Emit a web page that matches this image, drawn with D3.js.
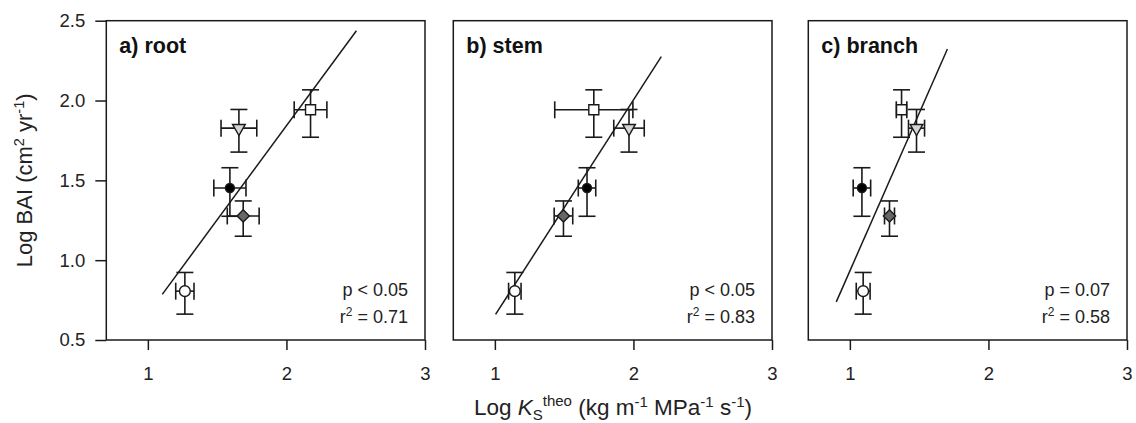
<!DOCTYPE html>
<html>
<head>
<meta charset="utf-8">
<script src="https://cdn.jsdelivr.net/npm/d3@7"></script>
<style>
  html, body { margin: 0; padding: 0; background: #fff; }
  svg { display: block; font-family: Arial, "Liberation Sans", sans-serif; }
</style>
</head>
<body>
<svg id="chart" width="1136" height="423"></svg>
<script>
// ---------- data ----------
const panels = ["a) root", "b) stem", "c) branch"];
const species = ["open circle", "black circle", "grey diamond", "grey triangle", "open square"];
const shapes = ["circle", "dot", "diamond", "triangle", "square"];
const fills = ["#ffffff", "#000000", "#666666", "#d4d4d4", "#ffffff"];

// Log BAI (y) with errors — same across organs
const yVals = [0.806, 1.452, 1.277, 1.827, 1.942];
const yErrLo = [0.144, 0.177, 0.127, 0.150, 0.172];
const yErrHi = [0.117, 0.127, 0.094, 0.117, 0.125];

// Log Ks theo (x) with errors per organ
const xRoot   = [1.267, 1.592, 1.688, 1.657, 2.174];
const xErrRoot = [0.066, 0.116, 0.115, 0.129, 0.118];
const xStem   = [1.144, 1.665, 1.495, 1.968, 1.714];
const xErrStem = [0.045, 0.063, 0.067, 0.110, 0.282];
const xBranch = [1.096, 1.087, 1.286, 1.481, 1.373];
const xErrBranch = [0.050, 0.063, 0.036, 0.058, 0.038];

// regression lines: [x0, y0, x1, y1]
const fitRoot   = [1.104, 0.786, 2.505, 2.437];
const fitStem   = [1.005, 0.660, 2.201, 2.275];
const fitBranch = [0.902, 0.739, 1.704, 2.323];

const pTexts = ["p < 0.05", "p < 0.05", "p = 0.07"];
const r2Vals = ["0.71", "0.83", "0.58"];

const xTicks = [1, 2, 3];
const yTicks = [0.5, 1.0, 1.5, 2.0, 2.5];
const xDomain = [0.7, 3];
const yDomain = [0.5, 2.5];

// ---------- layout ----------
const svg = d3.select("#chart");
const panelLeft = [106.3, 453.3, 808.3];
const pTop = 20.7, pw = 318.7, ph = 319.3;
const xs = [xRoot, xStem, xBranch];
const xe = [xErrRoot, xErrStem, xErrBranch];
const fits = [fitRoot, fitStem, fitBranch];
const ink = "#1a1a1a";

const y = d3.scaleLinear().domain(yDomain).range([pTop + ph, pTop]);

panels.forEach((name, pi) => {
  const x = d3.scaleLinear().domain(xDomain).range([panelLeft[pi], panelLeft[pi] + pw]);
  const g = svg.append("g");

  // frame
  g.append("rect").attr("x", panelLeft[pi]).attr("y", pTop).attr("width", pw).attr("height", ph)
    .attr("fill", "none").attr("stroke", ink).attr("stroke-width", 1.5);

  // x axis
  const xa = g.append("g").attr("transform", `translate(0,${pTop + ph})`)
    .call(d3.axisBottom(x).tickValues(xTicks).tickFormat(d3.format("d")).tickSize(10).tickPadding(17));
  xa.select(".domain").remove();
  xa.selectAll("line").attr("stroke", ink).attr("stroke-width", 1.5);
  xa.selectAll("text").attr("font-size", 18.5).attr("fill", "#222");

  // y axis only for first panel
  if (pi === 0) {
    const ya = g.append("g").attr("transform", `translate(${panelLeft[pi]},0)`)
      .call(d3.axisLeft(y).tickValues(yTicks).tickFormat(d3.format(".1f")).tickSize(11).tickPadding(10));
    ya.select(".domain").remove();
    ya.selectAll("line").attr("stroke", ink).attr("stroke-width", 1.5);
    ya.selectAll("text").attr("font-size", 18.5).attr("fill", "#222");
  }

  // regression line
  const f = fits[pi];
  g.append("line").attr("x1", x(f[0])).attr("y1", y(f[1])).attr("x2", x(f[2])).attr("y2", y(f[3]))
    .attr("stroke", ink).attr("stroke-width", 1.5);

  const cap = 8.5;
  species.forEach((s, i) => {
    const cx = x(xs[pi][i]), cy = y(yVals[i]);
    const eg = g.append("g").attr("stroke", ink).attr("stroke-width", 1.6).attr("fill", "none");
    const yl = y(yVals[i] - yErrLo[i]), yh = y(yVals[i] + yErrHi[i]);
    const xl = x(xs[pi][i] - xe[pi][i]), xh = x(xs[pi][i] + xe[pi][i]);
    eg.append("line").attr("x1", cx).attr("x2", cx).attr("y1", yl).attr("y2", yh);
    eg.append("line").attr("x1", cx - cap).attr("x2", cx + cap).attr("y1", yl).attr("y2", yl);
    eg.append("line").attr("x1", cx - cap).attr("x2", cx + cap).attr("y1", yh).attr("y2", yh);
    eg.append("line").attr("x1", xl).attr("x2", xh).attr("y1", cy).attr("y2", cy);
    eg.append("line").attr("x1", xl).attr("x2", xl).attr("y1", cy - cap).attr("y2", cy + cap);
    eg.append("line").attr("x1", xh).attr("x2", xh).attr("y1", cy - cap).attr("y2", cy + cap);

    let sym;
    switch (shapes[i]) {
      case "circle": sym = d3.symbol(d3.symbolCircle, 90); break;
      case "dot": sym = d3.symbol(d3.symbolCircle, 64); break;
      case "diamond": sym = d3.symbol(d3.symbolSquare, 75); break;
      case "triangle": sym = d3.symbol(d3.symbolTriangle, 70); break;
      case "square": sym = d3.symbol(d3.symbolSquare, 100); break;
    }
    let tr = `translate(${cx},${cy})`;
    if (shapes[i] === "diamond") tr += " rotate(45)";
    if (shapes[i] === "triangle") tr += " rotate(180)";
    g.append("path").attr("d", sym()).attr("transform", tr)
      .attr("fill", fills[i]).attr("stroke", ink).attr("stroke-width", 1.4);
  });

  // title
  g.append("text").attr("x", panelLeft[pi] + 13).attr("y", pTop + 32)
    .attr("font-size", 21.5).attr("font-weight", "bold").attr("fill", "#111").text(name);

  // stats
  const rx = panelLeft[pi] + pw - 17;
  g.append("text").attr("x", rx).attr("y", pTop + 275).attr("text-anchor", "end")
    .attr("font-size", 18).attr("fill", "#222").text(pTexts[pi]);
  const rt = g.append("text").attr("x", rx).attr("y", pTop + 302).attr("text-anchor", "end")
    .attr("font-size", 18).attr("fill", "#222");
  rt.append("tspan").text("r");
  rt.append("tspan").attr("font-size", 12).attr("dy", -7).text("2");
  rt.append("tspan").attr("dy", 7).text(" = " + r2Vals[pi]);
});

// y axis title
const yt = svg.append("text").attr("transform", `translate(32,${pTop + ph / 2}) rotate(-90)`)
  .attr("text-anchor", "middle").attr("font-size", 22).attr("fill", "#222");
yt.append("tspan").text("Log BAI (cm");
yt.append("tspan").attr("font-size", 14.5).attr("dy", -8).text("2");
yt.append("tspan").attr("dy", 8).text(" yr");
yt.append("tspan").attr("font-size", 14.5).attr("dy", -8).text("-1");
yt.append("tspan").attr("dy", 8).text(")");

// x axis title
const xt = svg.append("text").attr("x", 613).attr("y", 415)
  .attr("text-anchor", "middle").attr("font-size", 22.5).attr("fill", "#222");
xt.append("tspan").text("Log ");
xt.append("tspan").attr("font-style", "italic").text("K");
xt.append("tspan").attr("font-size", 15).attr("dy", 5).text("S");
xt.append("tspan").attr("font-size", 15).attr("dy", -14).text("theo");
xt.append("tspan").attr("dy", 9).text(" (kg m");
xt.append("tspan").attr("font-size", 15).attr("dy", -8).text("-1");
xt.append("tspan").attr("dy", 8).text(" MPa");
xt.append("tspan").attr("font-size", 15).attr("dy", -8).text("-1");
xt.append("tspan").attr("dy", 8).text(" s");
xt.append("tspan").attr("font-size", 15).attr("dy", -8).text("-1");
xt.append("tspan").attr("dy", 8).text(")");
</script>
</body>
</html>
